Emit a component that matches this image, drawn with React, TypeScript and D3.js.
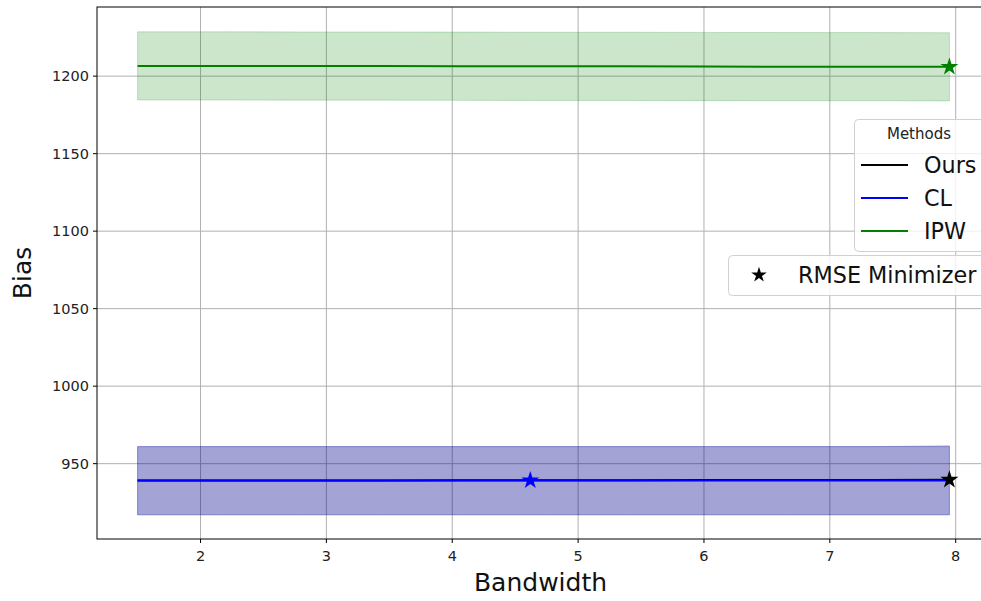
import React from "react";
import * as d3 from "d3";

// bandwidth grid and the three estimators (bias + band)
const bandwidths = [1.5, 2.15, 2.79, 3.44, 4.08, 4.73, 5.37, 6.02, 6.66, 7.31, 7.95];
const oursBias = [939.2, 939.2, 939.2, 939.2, 939.3, 939.3, 939.3, 939.4, 939.4, 939.5, 939.6];
const oursLow = [917, 917, 917, 917, 917, 917, 917, 917, 917, 917, 917];
const oursHigh = [961, 961, 961, 961, 961, 961, 961, 961, 961, 961, 961.5];
const clBias = [939.2, 939.2, 939.2, 939.2, 939.2, 939.2, 939.2, 939.2, 939.2, 939.2, 939.2];
const clLow = [917, 917, 917, 917, 917, 917, 917, 917, 917, 917, 917];
const clHigh = [961, 961, 961, 961, 961, 961, 961, 961, 961, 961, 961];
const ipwBias = [1206.6, 1206.6, 1206.5, 1206.5, 1206.4, 1206.3, 1206.3, 1206.2, 1206.1, 1206.1, 1206.0];
const ipwLow = [1184.6, 1184.6, 1184.5, 1184.5, 1184.4, 1184.3, 1184.3, 1184.2, 1184.1, 1184.1, 1184.0];
const ipwHigh = [1228.6, 1228.6, 1228.5, 1228.5, 1228.4, 1228.3, 1228.3, 1228.2, 1228.1, 1228.1, 1228.0];

const minimizers = [
  { x: 7.95, y: 939.6, color: "black" },
  { x: 4.62, y: 939.2, color: "blue" },
  { x: 7.95, y: 1206.0, color: "green" },
];

const xTicks = [2, 3, 4, 5, 6, 7, 8];
const yTicks = [950, 1000, 1050, 1100, 1150, 1200];
const legendNames = ["Ours", "CL", "IPW"];
const legendColors = ["black", "blue", "green"];

const W = 981;
const H = 601;
const M = { top: 7, left: 97, right: 990, bottom: 539 };
const FONT = "DejaVu Sans, sans-serif";

const App = () => {
  const x = d3.scaleLinear().domain([1.1775, 8.2725]).range([M.left, M.right]);
  const y = d3.scaleLinear().domain([901.4, 1244.6]).range([M.bottom, M.top]);

  const series = [
    { color: "black", bias: oursBias, low: oursLow, high: oursHigh },
    { color: "blue", bias: clBias, low: clLow, high: clHigh },
    { color: "green", bias: ipwBias, low: ipwLow, high: ipwHigh },
  ];

  const area = (lo: number[], hi: number[]) =>
    d3.area<number>()
      .x((d) => x(d))
      .y0((_, i) => y(lo[i]))
      .y1((_, i) => y(hi[i]))(bandwidths) as string;

  const line = (vals: number[]) =>
    d3.line<number>()
      .x((d) => x(d))
      .y((_, i) => y(vals[i]))(bandwidths) as string;

  const star = d3.symbol().type(d3.symbolStar).size(100)() as string;
  const smallStar = d3.symbol().type(d3.symbolStar).size(75)() as string;

  return (
    <svg width={W} height={H} style={{ position: "absolute", left: 0, top: 0 }} fontFamily={FONT}>
      <rect width={W} height={H} fill="white" />
      {/* grid */}
      {xTicks.map((t) => (
        <line key={"gx" + t} x1={x(t)} x2={x(t)} y1={M.top} y2={M.bottom} stroke="#b0b0b0" strokeWidth={1} />
      ))}
      {yTicks.map((t) => (
        <line key={"gy" + t} x1={M.left} x2={M.right} y1={y(t)} y2={y(t)} stroke="#b0b0b0" strokeWidth={1} />
      ))}
      {/* bands */}
      {series.map((s) => (
        <path key={"a" + s.color} d={area(s.low, s.high)} fill={s.color} fillOpacity={0.2} stroke={s.color} strokeOpacity={0.2} />
      ))}
      {series.map((s) => (
        <path key={"l" + s.color} d={line(s.bias)} fill="none" stroke={s.color} strokeWidth={2} />
      ))}
      {minimizers.map((m, i) => (
        <path key={"s" + i} d={star} transform={`translate(${x(m.x)},${y(m.y)})`} fill={m.color} />
      ))}
      {/* spines */}
      <rect x={M.left} y={M.top} width={M.right - M.left} height={M.bottom - M.top} fill="none" stroke="black" strokeWidth={1} />
      {/* ticks */}
      {xTicks.map((t) => (
        <g key={"tx" + t} transform={`translate(${x(t)},${M.bottom})`}>
          <line y2={4} stroke="black" />
          <text y={22} textAnchor="middle" fontSize={14.5} fill="#222">{t}</text>
        </g>
      ))}
      {yTicks.map((t) => (
        <g key={"ty" + t} transform={`translate(${M.left},${y(t)})`}>
          <line x2={-4} stroke="black" />
          <text x={-8} dy="0.35em" textAnchor="end" fontSize={14.5} fill="#222">{t}</text>
        </g>
      ))}
      <text x={(M.left + M.right) / 2 - 3} y={591} textAnchor="middle" fontSize={25} fill="#111">Bandwidth</text>
      <text transform="translate(31,273) rotate(-90)" textAnchor="middle" fontSize={25} fill="#111">Bias</text>
      {/* legend: methods */}
      <rect x={854.5} y={119.5} width={140} height={132} rx={4} fill="white" fillOpacity={0.8} stroke="#d0d0d0" />
      <text x={919} y={139} textAnchor="middle" fontSize={15} fill="#222">Methods</text>
      {legendNames.map((n, i) => (
        <g key={n} transform={`translate(0,${165 + i * 33})`}>
          <line x1={861} x2={908} stroke={legendColors[i]} strokeWidth={2} />
          <text x={924} dy="0.36em" fontSize={22.3} fill="#111">{n}</text>
        </g>
      ))}
      {/* legend: minimizer */}
      <rect x={728.5} y={255.5} width={270} height={40} rx={4} fill="white" fillOpacity={0.8} stroke="#d0d0d0" />
      <path d={smallStar} transform="translate(759,275)" fill="black" />
      <text x={798} y={275} dy="0.36em" fontSize={22.3} fill="#111">RMSE Minimizer</text>
    </svg>
  );
};

export default App;
